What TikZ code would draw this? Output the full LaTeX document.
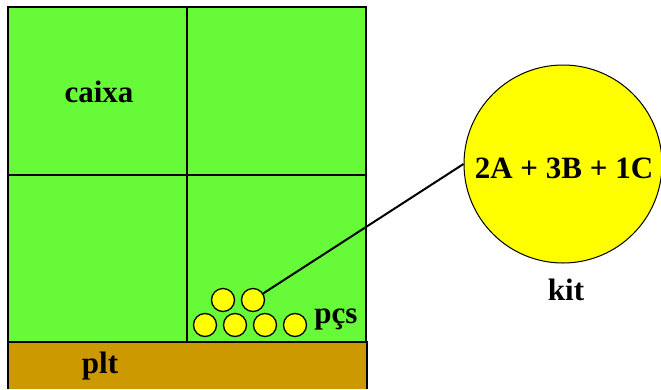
\documentclass[tikz,border=0pt]{standalone}
\usepackage{fontspec}
\setmainfont{Liberation Serif}
\definecolor{boxgreen}{RGB}{102,250,56}
\definecolor{pltbrown}{RGB}{204,153,0}
\definecolor{pcyellow}{RGB}{255,255,0}
\tikzset{
  lbl/.style={anchor=base,inner sep=0pt,font=\fontsize{31}{33}\selectfont\bfseries},
  pc/.style={circle,draw=black,line width=1.3pt,fill=pcyellow,minimum size=23pt,inner sep=0pt},
}
\begin{document}
\begin{tikzpicture}[x=1pt,y=-1pt,line width=1.5pt]
  \useasboundingbox (0,0) rectangle (661,389);
  % (a) boxes
  \fill[boxgreen] (8,7) rectangle (366,342);
  \draw (8,7) rectangle (366,342);
  \draw (187,7) -- (187,342);
  \draw (8,175) -- (366,175);
  \node[lbl] (caixa) at (99,102) {caixa};
  % (b) pallet
  \fill[pltbrown] (8,342) rectangle (367,389);
  \draw (8,389) -- (8,342) -- (367,342) -- (367,389);
  \node[lbl] (plt) at (100,373) {plt};
  % (c) pieces
  \foreach \x [count=\k] in {205,235,265,295}{\node[pc] (p\k) at (\x,325) {};}
  \node[pc] (p5) at (223,300) {};
  \node[pc] (p6) at (253,300) {};
  \node[lbl] (pcs) at (336,323) {pçs};
  % (d) kit
  \node[circle,draw=black,line width=1pt,fill=pcyellow,minimum size=198pt,inner sep=0pt] (kit) at (563,164) {};
  \node[lbl] (mix) at (564,178) {2A + 3B + 1C};
  \node[lbl] (kitlbl) at (566,300) {kit};
  \draw[line width=2pt] (p6) -- (kit.west);
\end{tikzpicture}
\end{document}
